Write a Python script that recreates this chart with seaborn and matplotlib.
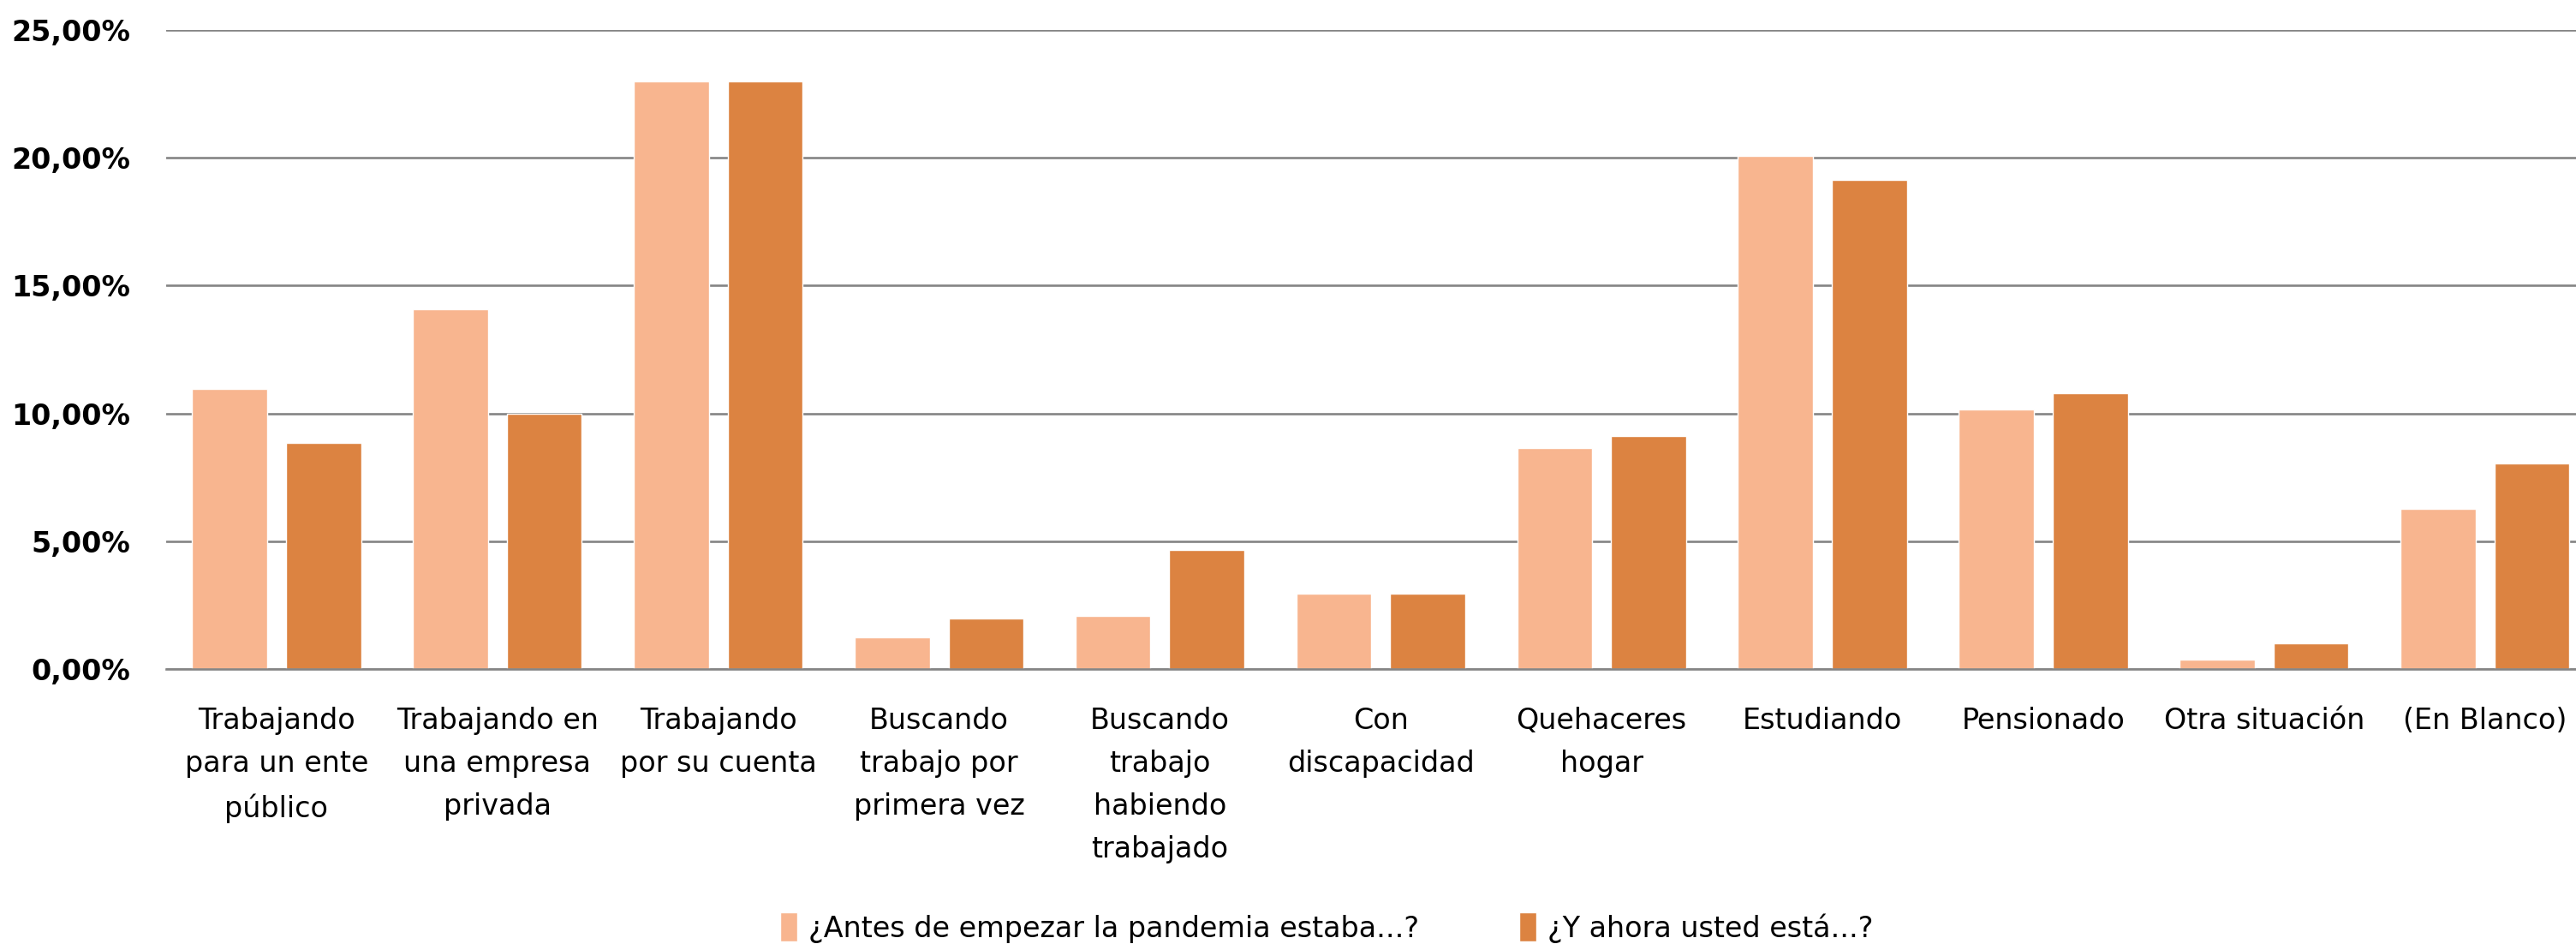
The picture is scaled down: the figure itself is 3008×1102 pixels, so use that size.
import matplotlib
matplotlib.use('Agg')
import matplotlib.pyplot as plt
import matplotlib.ticker as mticker
import seaborn as sns
import pandas as pd

# Data (shares)
categorias = ['Trabajando\npara un ente\npúblico', 'Trabajando en\nuna empresa\nprivada',
              'Trabajando\npor su cuenta', 'Buscando\ntrabajo por\nprimera vez',
              'Buscando\ntrabajo\nhabiendo\ntrabajado', 'Con\ndiscapacidad',
              'Quehaceres\nhogar', 'Estudiando', 'Pensionado', 'Otra situación', '(En Blanco)']
antes = [0.1095, 0.1407, 0.2300, 0.0125, 0.0207, 0.0295, 0.0866, 0.2008, 0.1017, 0.0037, 0.0627]
ahora = [0.0885, 0.0998, 0.2300, 0.0197, 0.0466, 0.0295, 0.0910, 0.1915, 0.1080, 0.0100, 0.0803]
series = ['¿Antes de empezar la pandemia estaba...?', '¿Y ahora usted está...?']
colores = ['#F8B58F', '#DC8341']

df = pd.DataFrame({
    'categoria': categorias * 2,
    'valor': antes + ahora,
    'serie': [series[0]] * len(categorias) + [series[1]] * len(categorias),
})

sns.set_style('white')
plt.rcParams['font.family'] = ['DejaVu Sans Condensed', 'DejaVu Sans']
plt.rcParams['text.color'] = 'black'
plt.rcParams['xtick.color'] = 'black'
plt.rcParams['ytick.color'] = 'black'

fig = plt.figure(figsize=(30.08, 11.02), dpi=100)
ax = fig.add_axes([0.0645, 0.2913, 0.943, 0.6769])

sns.barplot(data=df, x='categoria', y='valor', hue='serie', palette=colores,
            width=0.85, gap=0.2, ax=ax, saturation=1, legend=True)

ax.set_ylim(0, 0.25)
ax.set_yticks([0, 0.05, 0.10, 0.15, 0.20, 0.25])
ax.yaxis.set_major_formatter(mticker.FuncFormatter(lambda v, p: f'{v*100:.2f}%'.replace('.', ',')))
ax.set_xlim(-0.5, len(categorias) - 0.5)
ax.grid(axis='y', color='#858585', linewidth=1.9)
ax.set_axisbelow(True)
for s in ['top', 'right', 'left']:
    ax.spines[s].set_visible(False)
ax.spines['bottom'].set_color('#858585')
ax.spines['bottom'].set_linewidth(1.9)
ax.set_xlabel('')
ax.set_ylabel('')
ax.tick_params(axis='y', length=0, pad=30, labelsize=24, labelcolor='black')
ax.tick_params(axis='x', length=0, pad=32, labelsize=24, labelcolor='black')
for t in ax.get_yticklabels():
    t.set_fontweight('bold')
for t in ax.get_xticklabels():
    t.set_linespacing(1.65)

handles, labels = ax.get_legend_handles_labels()
ax.get_legend().remove()
fig.legend(handles, labels, loc='lower center', bbox_to_anchor=(0.515, -0.026), ncol=2,
           frameon=False, fontsize=24, handlelength=0.6, handleheight=1.2,
           handletextpad=0.4, columnspacing=3.5)

fig.savefig('out.png', dpi=100)
